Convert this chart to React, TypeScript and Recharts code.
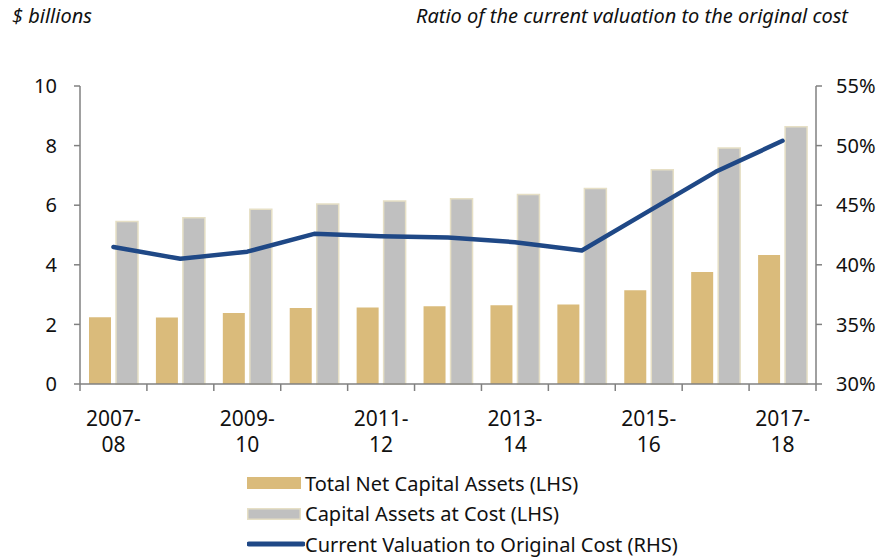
import { ComposedChart, Bar, Line, XAxis, YAxis } from 'recharts'

const years = ['2007-08', '2008-09', '2009-10', '2010-11', '2011-12', '2012-13', '2013-14', '2014-15', '2015-16', '2016-17', '2017-18']
const netAssets = [2.24, 2.23, 2.38, 2.55, 2.57, 2.61, 2.64, 2.67, 3.15, 3.76, 4.33]
const assetsAtCost = [5.45, 5.58, 5.86, 6.04, 6.14, 6.22, 6.36, 6.56, 7.19, 7.92, 8.63]
const ratio = [41.5, 40.5, 41.1, 42.6, 42.4, 42.3, 41.9, 41.2, 44.5, 47.8, 50.4]
const leftTicks = [0, 2, 4, 6, 8, 10]
const rightTicks = [30, 35, 40, 45, 50, 55]

const data = years.map((year, i) => ({
  year,
  net: netAssets[i],
  cost: assetsAtCost[i],
  ratio: ratio[i],
}))

const FONT = '"Noto Sans", sans-serif'
const GOLD = '#dabb7b'
const GREY = '#c0c0c0'
const NAVY = '#1f4886'
const AXIS = '#808080'
const BAND = 736 / years.length

function XTick(props: any) {
  const { x, y, payload, index } = props
  const [a, b] = String(payload.value).split('-')
  const half = BAND / 2
  return (
    <g>
      <line x1={x - half} y1={y} x2={x - half} y2={y + 7} stroke={AXIS} strokeWidth={1.5} />
      {index === years.length - 1 && (
        <line x1={x + half} y1={y} x2={x + half} y2={y + 7} stroke={AXIS} strokeWidth={1.5} />
      )}
      {index % 2 === 0 && (
        <text textAnchor="middle" fontFamily={FONT} fontSize={21} fill="#111">
          <tspan x={x} y={y + 42}>{a}-</tspan>
          <tspan x={x} y={y + 68}>{b}</tspan>
        </text>
      )}
    </g>
  )
}

const legendItems = [
  { label: 'Total Net Capital Assets (LHS)', kind: 'net' },
  { label: 'Capital Assets at Cost (LHS)', kind: 'cost' },
  { label: 'Current Valuation to Original Cost (RHS)', kind: 'line' },
]

function LegendBox() {
  return (
    <div style={{ position: 'absolute', left: 247, top: 468, fontFamily: FONT, fontSize: 20, color: '#111' }}>
      {legendItems.map((it) => (
        <div key={it.label} style={{ display: 'flex', alignItems: 'center', height: 30.5 }}>
          <svg width={58} height={14}>
            {it.kind === 'net' && <rect x={0} y={1} width={54} height={12} fill={GOLD} />}
            {it.kind === 'cost' && <rect x={0.75} y={1.75} width={52.5} height={10.5} fill={GREY} stroke="#e6dfc5" strokeWidth={1.5} />}
            {it.kind === 'line' && <line x1={2} y1={7} x2={56} y2={7} stroke={NAVY} strokeWidth={5} strokeLinecap="round" />}
          </svg>
          <span>{it.label}</span>
        </div>
      ))}
    </div>
  )
}

export default function App() {
  return (
    <div style={{ position: 'absolute', left: 0, top: 0, width: 889, height: 558, background: '#fff' }}>
      <div style={{ position: 'absolute', left: 12, top: 6, lineHeight: '20px', fontFamily: FONT, fontSize: 20, fontStyle: 'italic', color: '#111' }}>
        $ billions
      </div>
      <div style={{ position: 'absolute', right: 41, top: 6, lineHeight: '20px', fontFamily: FONT, fontSize: 20, fontStyle: 'italic', color: '#111' }}>
        Ratio of the current valuation to the original cost
      </div>
      <ComposedChart
        width={889}
        height={558}
        data={data}
        margin={{ top: 86, right: 0, left: 0, bottom: 104 }}
        barCategoryGap={9}
        barGap={5}
      >
        <XAxis
          dataKey="year"
          interval={0}
          tickSize={0}
          tickMargin={0}
          tickLine={false}
          height={70}
          axisLine={{ stroke: AXIS, strokeWidth: 1.5 }}
          tick={<XTick />}
        />
        <YAxis
          yAxisId="left"
          width={80}
          domain={[0, 10]}
          ticks={leftTicks}
          tickSize={6}
          tickMargin={17}
          axisLine={{ stroke: AXIS, strokeWidth: 1.5 }}
          tickLine={{ stroke: AXIS, strokeWidth: 1.5 }}
          tick={{ fontFamily: FONT, fontSize: 20, fill: '#111' }}
        />
        <YAxis
          yAxisId="right"
          orientation="right"
          width={73}
          domain={[30, 55]}
          ticks={rightTicks}
          tickFormatter={(v) => `${v}%`}
          tickSize={6}
          tickMargin={14}
          axisLine={{ stroke: AXIS, strokeWidth: 1.5 }}
          tickLine={{ stroke: AXIS, strokeWidth: 1.5 }}
          tick={{ fontFamily: FONT, fontSize: 20, fill: '#111' }}
        />
        <Bar yAxisId="left" dataKey="net" name="Total Net Capital Assets (LHS)" fill={GOLD} isAnimationActive={false} />
        <Bar yAxisId="left" dataKey="cost" name="Capital Assets at Cost (LHS)" fill={GREY} stroke="#e6dfc5" strokeWidth={1.5} isAnimationActive={false} />
        <Line
          yAxisId="right"
          dataKey="ratio"
          name="Current Valuation to Original Cost (RHS)"
          type="linear"
          stroke={NAVY}
          strokeWidth={4.5}
          strokeLinecap="round"
          strokeLinejoin="round"
          dot={false}
          activeDot={false}
          isAnimationActive={false}
        />
      </ComposedChart>
      <LegendBox />
    </div>
  )
}
